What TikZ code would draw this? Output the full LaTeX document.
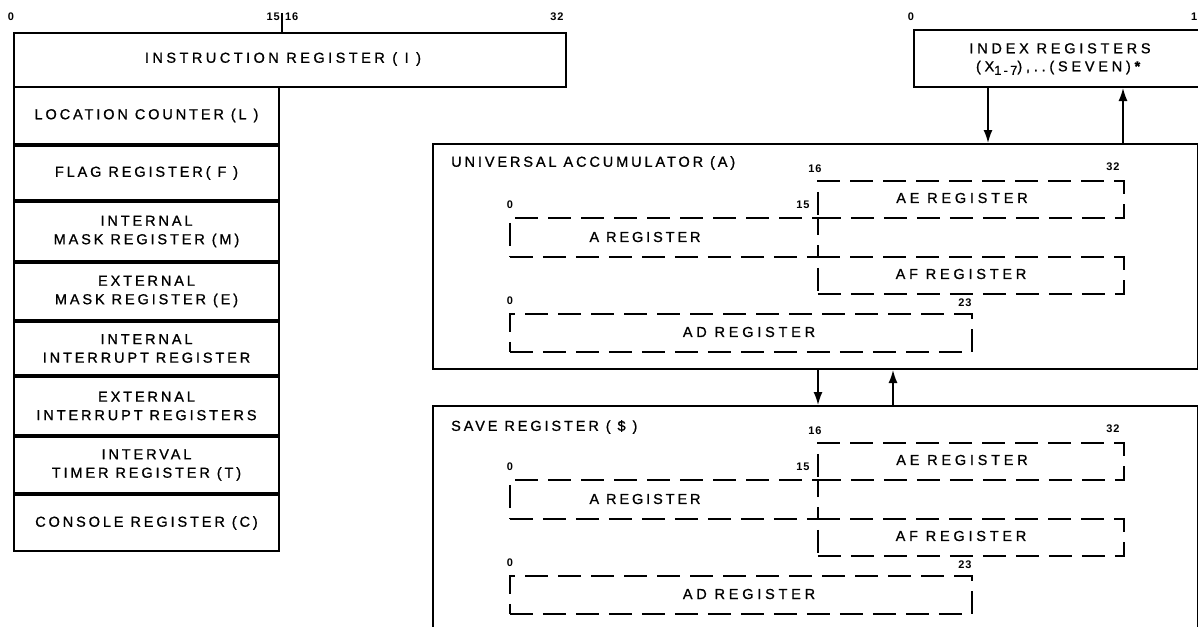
\documentclass[tikz,border=0pt]{standalone}
\usepackage{fontspec}
\setmainfont{Liberation Sans}
\newfontfamily\lblfont[LetterSpace=20,FakeBold=1]{Liberation Sans}
\newfontfamily\widefont[LetterSpace=26,FakeBold=1]{Liberation Sans}
\newfontfamily\irfont[LetterSpace=24,FakeBold=1]{Liberation Sans}
\newfontfamily\numfont[LetterSpace=8]{Liberation Sans Bold}
\usetikzlibrary{arrows.meta}
\begin{document}
\begin{tikzpicture}[x=1pt,y=-1pt,
  lbl/.style={font=\lblfont\fontsize{14.5}{17}\selectfont, inner sep=0pt, align=center},
  wlbl/.style={font=\widefont\fontsize{14.5}{17}\selectfont, inner sep=0pt, align=center},
  num/.style={font=\numfont\fontsize{11}{12}\selectfont, inner sep=0pt},
  solidbox/.style={draw, line width=2pt, inner sep=0pt, anchor=north west},
  cell/.style={draw, line width=2pt, inner sep=0pt, minimum width=265pt, align=center,
     font=\lblfont\fontsize{14.5}{18.5}\selectfont},
  dbox/.style={draw, line width=1.7pt, dash pattern=on 23pt off 10pt, inner sep=0pt, anchor=north west},
  arr/.style={line width=1.5pt, -{Latex[length=13pt,width=9pt]}}
]
\useasboundingbox (0,0) rectangle (1198,626);

% ---------------- left column ----------------
\node[solidbox, minimum width=552pt, minimum height=54pt] (IR) at (13,32) {};
\node[inner sep=0pt, font=\irfont\fontsize{14.5}{17}\selectfont] (IRt) at (283,59) {INSTRUCTION REGISTER ( I )};
\coordinate (tick) at (282,13);
\draw[line width=1.6pt] (tick) -- (tick |- IR.north);
\node[num] (n0) at (11,17) {0};
\node[num, anchor=east] (n15) at (280,17) {15};
\node[num, anchor=west] (n16) at (285,17) {16};
\node[num] (n32) at (557,17) {32};

\node[cell, minimum height=57pt, anchor=north west] (L) at (13,86) {LOCATION COUNTER (L )};
\node[cell, minimum height=54pt, anchor=north] (F) at (L.south) {FLAG REGISTER( F )};
\node[cell, minimum height=59pt, anchor=north] (M) at (F.south) {INTERNAL\\MASK REGISTER (M)};
\node[cell, minimum height=57pt, anchor=north] (E) at (M.south) {EXTERNAL\\MASK REGISTER (E)};
\node[cell, minimum height=53pt, anchor=north] (II) at (E.south) {INTERNAL\\INTERRUPT REGISTER};
\node[cell, minimum height=58pt, anchor=north] (EI) at (II.south) {EXTERNAL\\INTERRUPT REGISTERS};
\node[cell, minimum height=56pt, anchor=north] (T) at (EI.south) {INTERVAL\\TIMER REGISTER (T)};
\node[cell, minimum height=56pt, anchor=north] (C) at (T.south) {CONSOLE REGISTER (C)};

% ---------------- index registers ----------------
\node[solidbox, minimum width=290pt, minimum height=57pt] (X) at (913,29) {};
\node[wlbl] (Xt) at (1060,59) {INDEX REGISTERS\\[1pt](X\raisebox{-3.5pt}{\fontsize{13}{13}\selectfont 1\,-\,7}),..(SEVEN)\textbf{*}};
\node[num] (x0) at (911,17) {0};
\node[num, anchor=west] (x15) at (1191,17) {15};

% ---------------- universal accumulator ----------------
\node[solidbox, minimum width=765pt, minimum height=225pt] (A) at (432,143) {};
\node[lbl, anchor=west] (At) at (451,163) {UNIVERSAL ACCUMULATOR (A)};

\coordinate (xdown) at (988,0);
\coordinate (xup) at (1123,0);
\draw[arr] (X.south -| xdown) -- (A.north -| xdown);
\draw[arr] (A.north -| xup) -- (X.south -| xup);

\node[dbox, minimum width=306pt, minimum height=37pt] (AE) at (817,180) {};
\node[dbox, minimum width=308pt, minimum height=39pt] (AR) at (509,217) {};
\node[dbox, minimum width=306pt, minimum height=37pt] (AF) at (817,256) {};
\node[dbox, minimum width=462pt, minimum height=38pt] (AD) at (509,313) {};
\node[wlbl] at (962,198) {AE REGISTER};
\node[lbl] at (645,237) {A REGISTER};
\node[wlbl] at (961,274) {AF REGISTER};
\node[wlbl] at (749,332) {AD REGISTER};
\node[num] at (815,169) {16};
\node[num] at (1113,167) {32};
\node[num] at (510,205) {0};
\node[num] at (803,205) {15};
\node[num] at (510,301) {0};
\node[num] at (965,303) {23};

% ---------------- save register ----------------
\node[solidbox, minimum width=765pt, minimum height=260pt] (S) at (432,405) {};
\node[lbl, anchor=west] (St) at (451,427) {SAVE REGISTER ( \$ )};

\coordinate (sdown) at (818,0);
\coordinate (sup) at (893,0);
\draw[arr] (A.south -| sdown) -- (S.north -| sdown);
\draw[arr] (S.north -| sup) -- (A.south -| sup);

\node[dbox, minimum width=306pt, minimum height=37pt] (SE) at (817,442) {};
\node[dbox, minimum width=308pt, minimum height=39pt] (SR) at (509,479) {};
\node[dbox, minimum width=306pt, minimum height=37pt] (SF) at (817,518) {};
\node[dbox, minimum width=462pt, minimum height=38pt] (SD) at (509,575) {};
\node[wlbl] at (962,460) {AE REGISTER};
\node[lbl] at (645,499) {A REGISTER};
\node[wlbl] at (961,536) {AF REGISTER};
\node[wlbl] at (749,594) {AD REGISTER};
\node[num] at (815,431) {16};
\node[num] at (1113,429) {32};
\node[num] at (510,467) {0};
\node[num] at (803,467) {15};
\node[num] at (510,563) {0};
\node[num] at (965,565) {23};
\end{tikzpicture}
\end{document}
